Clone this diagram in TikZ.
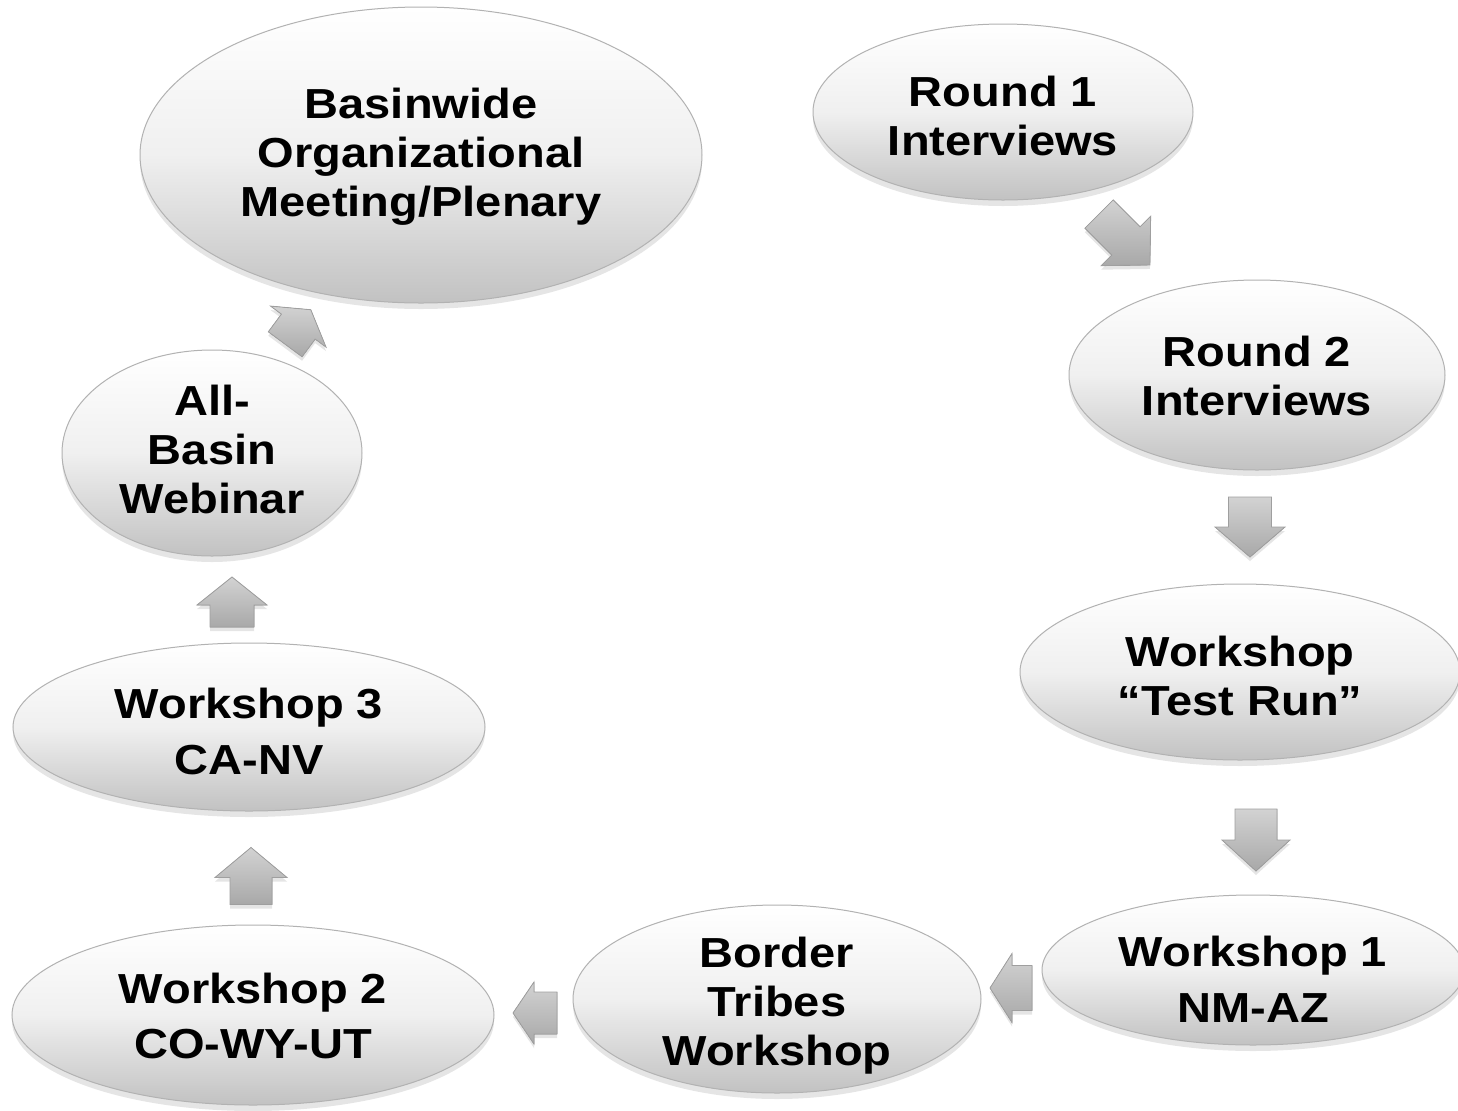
\documentclass[tikz,border=0pt]{standalone}
\usepackage{fontspec}
\setmainfont{Liberation Sans}[FakeStretch=1.12]
\usetikzlibrary{shapes.geometric,shadows}
\newcommand\blockarrow[8]{%
  \coordinate (#1) at (#2,#3);
  \begin{scope}[shift={(#1)}, rotate=#4]
    \filldraw[flow] (-#5/2,-#7/2) -- (#5/2-#8,-#7/2) -- (#5/2-#8,-#6/2) -- (#5/2,0)
      -- (#5/2-#8,#6/2) -- (#5/2-#8,#7/2) -- (-#5/2,#7/2) -- cycle;
  \end{scope}}
\begin{document}
\begin{tikzpicture}[x=0.5pt,y=-0.5pt,
  stage/.style={ellipse, draw=gray!60, line width=0.5pt, top color=white, bottom color=gray!48,
    middle color=gray!12,
    drop shadow={opacity=0.2, shadow xshift=0pt, shadow yshift=-3pt},
    inner sep=0pt},
  stagetext/.style={align=center, inner sep=0pt,
    font=\bfseries\fontsize{21pt}{24.5pt}\selectfont},
  flow/.style={draw=gray!75, line width=0.4pt, top color=gray!35, bottom color=gray!68,
    drop shadow={opacity=0.2, shadow xshift=0pt, shadow yshift=-2pt}}
]
\useasboundingbox (0,0) rectangle (1458,1110);
\fill[white] (0,0) rectangle (1458,1110);

\node[stage, minimum width=281pt, minimum height=148pt,
  label={[stagetext, yshift=-1pt]center:{Basinwide\\Organizational\\Meeting/Plenary}}] (basin) at (421,155) {};
\node[stage, minimum width=190pt, minimum height=88pt,
  label={[stagetext, yshift=-2pt]center:{Round 1\\Interviews}}] (r1) at (1003,112) {};
\node[stage, minimum width=188pt, minimum height=95pt,
  label={[stagetext, yshift=-0.5pt]center:{Round 2\\Interviews}}] (r2) at (1257,375) {};
\node[stage, minimum width=220pt, minimum height=88pt,
  label={[stagetext, yshift=-2pt]center:{Workshop\\“Test Run”}}] (tr) at (1240,672) {};
\node[stage, minimum width=211pt, minimum height=75pt,
  label={[stagetext, yshift=-4.5pt]center:{Workshop 1\\[3.5pt]NM-AZ}}] (w1) at (1253,970) {};
\node[stage, minimum width=204pt, minimum height=94pt,
  label={[stagetext, yshift=-3.5pt]center:{Border\\Tribes\\Workshop}}] (bt) at (777,999) {};
\node[stage, minimum width=241pt, minimum height=90pt,
  label={[stagetext, yshift=-0.5pt]center:{Workshop 2\\[3pt]CO-WY-UT}}] (w2) at (253,1015) {};
\node[stage, minimum width=236pt, minimum height=84pt,
  label={[stagetext, yshift=-2pt]center:{Workshop 3\\[3.5pt]CA-NV}}] (w3) at (249,727) {};
\node[stage, minimum width=150pt, minimum height=103pt,
  label={[stagetext, yshift=2pt]center:{All-\\Basin\\Webinar}}] (web) at (212,453) {};

\blockarrow{a1}{1124.5}{239.5}{-45}{72}{70}{40}{34}
\blockarrow{a2}{1250}{527}{-90}{60}{70}{43}{30}
\blockarrow{a3}{1256}{840}{-90}{62}{68}{42}{31}
\blockarrow{a4}{1011}{988}{180}{42}{69}{45}{22}
\blockarrow{a5}{535}{1013}{180}{44}{62}{42}{21}
\blockarrow{a6}{251}{876}{90}{57}{72}{42}{30}
\blockarrow{a7}{232}{602}{90}{50}{70}{44}{28}
\blockarrow{a8}{298}{327}{53.5}{43}{69}{42}{21}
\end{tikzpicture}
\end{document}
